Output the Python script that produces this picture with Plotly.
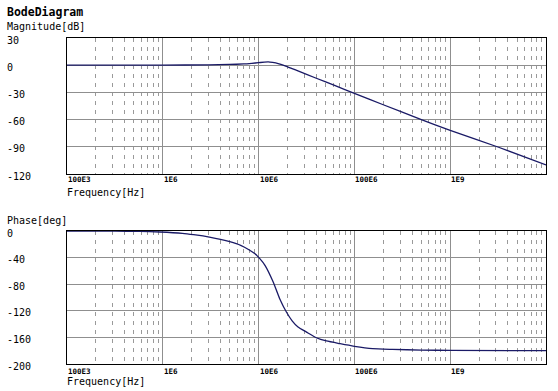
import plotly.graph_objects as go
import math

# ---------------- data ----------------
mag_freq = [1e5, 1e6, 3e6, 5e6, 7e6, 8.5e6, 1.0e7, 1.15e7, 1.26e7, 1.4e7, 1.6e7,
            1.95e7, 2.5e7, 4e7, 6.3e7, 1e8, 2e8, 5e8, 1e9, 3.2e9, 1e10]
mag_db = [0.0, 0.1, 0.4, 0.8, 1.4, 2.1, 2.8, 3.4, 3.6, 3.0, 1.8,
          -1.2, -5.8, -14.4, -22.6, -31.0, -43.6, -60.0, -72.0, -90.5, -110.0]

phase_freq = [1e5, 3.16e5, 5.75e5, 9.3e5, 1.6e6, 2.1e6, 3.16e6, 4e6, 5e6, 6.5e6, 8e6,
              9.1e6, 1.03e7, 1.17e7, 1.42e7, 1.66e7, 1.95e7, 2.24e7, 2.58e7, 3.16e7,
              4e7, 5.1e7, 7.1e7, 1e8, 1.55e8, 2.5e8, 5e8, 1e9, 1e10]
phase_deg = [0.0, -0.3, -0.6, -1.5, -3.5, -5.6, -9.5, -12.5, -16.0, -21.5, -28.5,
             -34.0, -41.6, -52.0, -76.7, -101.8, -121.8, -135.0, -144.4, -152.0,
             -160.5, -165.4, -169.5, -173.4, -177.0, -178.0, -179.0, -179.5, -180.0]

x_tick_vals = [1e5, 1e6, 1e7, 1e8, 1e9]
x_tick_text = ["100E3", "1E6", "10E6", "100E6", "1E9"]
mag_ticks = [30, 0, -30, -60, -90, -120]
phase_ticks = [0, -40, -80, -120, -160, -200]
minor_vals = [k * 10 ** d for d in range(5, 10) for k in range(2, 10)]

# ---------------- layout helpers ----------------
W, H = 558, 391
L, R, T, B = 67, 12, 38, 27
pw, ph = W - L - R, H - T - B


def px_x(px):
    return (px - L) / pw


def px_y(py):
    return (H - B - py) / ph


FONT = "DejaVu Sans Mono"
LINE = "#1a1a66"
GRID = "#8f8f8f"
MGRID = "#9a9a9a"

fig = go.Figure()
fig.add_trace(go.Scatter(x=mag_freq, y=mag_db, mode="lines",
                         line=dict(color=LINE, width=1.3, shape="spline", smoothing=0.5),
                         xaxis="x", yaxis="y", hoverinfo="skip"))
fig.add_trace(go.Scatter(x=phase_freq, y=phase_deg, mode="lines",
                         line=dict(color=LINE, width=1.3, shape="spline", smoothing=0.5),
                         xaxis="x2", yaxis="y2", hoverinfo="skip"))


def xaxis_cfg(anchor):
    return dict(type="log", range=[5, 10], tickmode="array", tickvals=x_tick_vals,
                showticklabels=False, ticks="", showgrid=True, gridcolor=GRID, gridwidth=1,
                showline=True, linecolor="black", linewidth=1, mirror=True, zeroline=False,
                anchor=anchor,
                minor=dict(tickmode="array", tickvals=minor_vals, showgrid=True,
                           gridcolor=MGRID, gridwidth=1, griddash="4px,5px", ticks=""))


def yaxis_cfg(rng, dt, domain, anchor):
    return dict(range=rng, dtick=dt, tick0=0, showticklabels=False, ticks="",
                showgrid=True, gridcolor=GRID, gridwidth=1, zeroline=False,
                showline=True, linecolor="black", linewidth=1, mirror=True,
                domain=domain, anchor=anchor)


annotations = []


def txt(x, y, s, size, bold=False, xref="paper", yref="paper", yshift=0):
    annotations.append(dict(x=x, y=y, xref=xref, yref=yref, text=("<b>%s</b>" % s) if bold else s,
                            showarrow=False, xanchor="left", yanchor="middle", yshift=yshift,
                            font=dict(family=FONT, size=size, color="black"), borderpad=0))


txt(px_x(6), px_y(11.7), "BodeDiagram", 11.5, bold=True)
txt(px_x(6), px_y(26.7), "Magnitude[dB]", 10)
for v in mag_ticks:
    txt(px_x(6), v, str(v), 10, yref="y", yshift=-2)
for v, s in zip(x_tick_vals, x_tick_text):
    txt(math.log10(v), px_y(179.5), s, 7.5, bold=True, xref="x")
txt(px_x(66), px_y(192.7), "Frequency[Hz]", 10)

txt(px_x(6), px_y(220), "Phase[deg]", 10)
for v in phase_ticks:
    txt(px_x(6), v, str(v), 10, yref="y2", yshift=-2)
for v, s in zip(x_tick_vals, x_tick_text):
    txt(math.log10(v), px_y(371.5), s, 7.5, bold=True, xref="x2")
txt(px_x(66), px_y(381.7), "Frequency[Hz]", 10)

fig.update_layout(
    width=W, height=H, autosize=False,
    margin=dict(l=L, r=R, t=T, b=B, pad=0),
    paper_bgcolor="white", plot_bgcolor="white",
    showlegend=False,
    font=dict(family=FONT, size=10, color="black"),
    xaxis=xaxis_cfg("y"),
    yaxis=yaxis_cfg([-120, 30], 30, [px_y(174), 1.0], "x"),
    xaxis2=xaxis_cfg("y2"),
    yaxis2=yaxis_cfg([-200, 0], 40, [0.0, px_y(231)], "x2"),
    annotations=annotations,
)

fig.write_html("out.html", config=dict(displayModeBar=False),
               post_script="document.body.style.margin='0';document.body.style.overflow='hidden';")
